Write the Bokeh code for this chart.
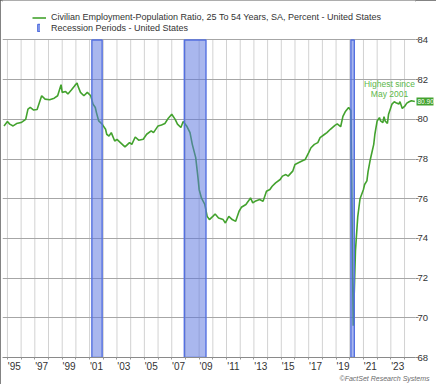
from bokeh.plotting import figure
from bokeh.models import (Range1d, FixedTicker, Legend, LegendItem, Label, ColumnDataSource,
                          LinearAxis, Title, PrintfTickFormatter)
from bokeh.embed import file_html
from bokeh.resources import INLINE

# ---- data ----
dates = ["1994-10", "1995-01", "1995-03", "1995-06", "1995-09", "1996-01", "1996-05", "1996-07",
         "1996-09", "1996-12", "1997-03", "1997-07", "1997-10", "1998-02", "1998-06", "1998-09",
         "1998-12", "1999-01", "1999-04", "1999-06", "1999-09", "1999-12", "2000-02", "2000-03",
         "2000-05", "2000-08", "2000-11", "2001-02", "2001-04", "2001-06", "2001-07", "2001-09",
         "2001-12", "2002-01", "2002-03", "2002-04", "2002-06", "2002-08", "2002-11", "2003-01",
         "2003-04", "2003-08", "2003-12", "2004-02", "2004-05", "2004-08", "2004-12", "2005-03",
         "2005-07", "2005-09", "2006-01", "2006-04", "2006-07", "2006-10", "2007-01", "2007-04",
         "2007-06", "2007-09", "2007-11", "2008-02", "2008-05", "2008-07", "2008-10", "2008-12",
         "2009-01", "2009-03", "2009-06", "2009-08", "2009-10", "2010-01", "2010-03", "2010-06",
         "2010-10", "2010-12", "2011-03", "2011-06", "2011-09", "2011-12", "2012-02", "2012-06",
         "2012-08", "2012-10", "2012-12", "2013-02", "2013-06", "2013-09", "2013-10", "2013-12",
         "2014-03", "2014-05", "2014-08", "2014-12", "2015-02", "2015-05", "2015-07", "2015-11",
         "2016-01", "2016-04", "2016-08", "2016-10", "2017-01", "2017-03", "2017-06", "2017-09",
         "2017-11", "2018-03", "2018-05", "2018-08", "2018-12", "2019-02", "2019-05", "2019-07",
         "2019-09", "2019-12", "2020-02", "2020-04", "2020-05", "2020-06", "2020-08", "2020-10",
         "2021-01", "2021-02", "2021-04", "2021-05", "2021-07", "2021-10", "2021-11", "2022-01",
         "2022-03", "2022-04", "2022-06", "2022-07", "2022-08", "2022-10", "2022-11", "2023-01",
         "2023-02", "2023-04", "2023-06", "2023-08", "2023-09", "2023-11", "2024-01", "2024-03",
         "2024-05", "2024-07", "2024-10"]
ratio = [79.67, 79.89, 79.76, 79.67, 79.79, 79.84, 80.00, 80.52,
         80.60, 80.47, 80.50, 81.19, 81.02, 80.99, 81.07, 81.19,
         81.75, 81.36, 81.40, 81.28, 81.48, 81.70, 81.83, 81.65,
         81.36, 81.19, 81.36, 81.19, 80.77, 80.60, 80.34, 79.92,
         79.76, 79.67, 79.50, 79.25, 79.16, 79.33, 78.91, 78.99,
         78.83, 78.61, 78.83, 78.74, 79.11, 78.95, 79.00, 79.25,
         79.42, 79.33, 79.67, 79.72, 79.79, 80.06, 80.26, 80.00,
         79.76, 79.59, 79.89, 79.67, 79.33, 78.74, 78.07, 77.05,
         76.47, 76.04, 75.71, 75.11, 74.95, 75.11, 75.23, 75.03,
         74.95, 74.78, 75.11, 74.95, 74.86, 75.37, 75.57, 75.71,
         75.87, 76.04, 75.79, 75.87, 75.96, 75.87, 76.04, 76.38,
         76.47, 76.63, 76.80, 76.97, 77.14, 77.22, 77.14, 77.39,
         77.73, 77.81, 77.93, 77.98, 78.32, 78.57, 78.74, 78.83,
         79.08, 79.25, 79.33, 79.50, 79.70, 79.77, 79.63, 80.15,
         80.38, 80.60, 80.45, 69.60, 71.40, 73.40, 75.10, 76.00,
         76.47, 76.72, 76.90, 77.35, 77.98, 78.74, 79.25, 79.92,
         80.09, 79.92, 79.84, 80.14, 79.92, 79.80, 80.26, 80.60,
         80.77, 80.89, 80.82, 80.77, 80.89, 80.55, 80.65, 80.82,
         80.89, 80.94, 80.90]

rec_start = ["2001-03", "2007-12", "2020-02"]
rec_end = ["2001-11", "2009-06", "2020-04"]

grid_years = list(range(1995, 2025))
year_label_years = list(range(1995, 2024, 2))
year_labels = ["'95", "'97", "'99", "'01", "'03", "'05", "'07", "'09",
               "'11", "'13", "'15", "'17", "'19", "'21", "'23"]
y_ticks = [68, 70, 72, 74, 76, 78, 80, 82, 84]

series_name = "Civilian Employment-Population Ratio, 25 To 54 Years, SA, Percent - United States"
recession_name = "Recession Periods - United States"
note_lines = ["Highest since", "May 2001"]
footer = "\u00a9FactSet Research Systems"


def to_year(s):
    y, m = s.split("-")
    return int(y) + (int(m) - 1) / 12.0


x = [to_year(d) for d in dates]
rec_left = [to_year(d) for d in rec_start]
rec_right = [to_year(d) + 1 / 12.0 for d in rec_end]

FONT = "Liberation Sans"
GREEN = "#43a22e"
TEXT = "#333333"
Y_MIN, Y_MAX = y_ticks[0], y_ticks[-1]

# the frame reaches up to the figure top so that the legend rows sit inside it
p = figure(width=436, height=384, output_backend="svg", toolbar_location=None,
           x_range=Range1d(1994.64, 2024.80), y_range=Range1d(Y_MIN, 85.99),
           y_axis_location="right",
           min_border_left=2, min_border_right=18, min_border_top=0, min_border_bottom=27)
p.title.visible = False
p.outline_line_color = None
p.background_fill_color = "white"
p.border_fill_color = "white"
p.styles = {"outline": "2px solid #5a5a5a", "outline-offset": "-2px"}

# vertical year grid limited to the value range
p.xgrid.visible = False
p.segment(x0=grid_years, y0=Y_MIN, x1=grid_years, y1=Y_MAX,
          line_color="#d2d2d2", line_width=1, level="underlay")
p.ygrid.ticker = FixedTicker(ticks=y_ticks)
p.ygrid.grid_line_color = "#a6a6a6"

line_src = ColumnDataSource(dict(x=x, y=ratio))
line_r = p.line("x", "y", source=line_src, line_color=GREEN, line_width=1.6)

rec_src = ColumnDataSource(dict(left=rec_left, right=rec_right))
rec_r = p.quad(left="left", right="right", bottom=Y_MIN, top=Y_MAX, source=rec_src,
               fill_color="#5b74df", fill_alpha=0.52, line_color="#5470e0", line_width=1.4)

# x axis
xa = p.xaxis[0]
xa.ticker = FixedTicker(ticks=[yy + 0.5 for yy in year_label_years], minor_ticks=grid_years)
xa.major_label_overrides = {yy + 0.5: lab for yy, lab in zip(year_label_years, year_labels)}
xa.major_tick_line_color = None
xa.major_tick_out = 0
xa.major_tick_in = 0
xa.minor_tick_out = 2
xa.minor_tick_in = 0
xa.minor_tick_line_color = "#999999"
xa.axis_line_color = "#8a8a8a"
xa.major_label_standoff = 1
xa.axis_label_standoff = 0
xa.major_label_text_font = FONT
xa.major_label_text_font_size = "10px"
xa.major_label_text_color = TEXT

# y axis (right)
ya = p.yaxis[0]
ya.ticker = FixedTicker(ticks=y_ticks)
ya.axis_line_color = None
ya.major_tick_out = 3
ya.major_tick_in = 0
ya.major_tick_line_color = "#888888"
ya.minor_tick_line_color = None
ya.major_label_standoff = -1
ya.axis_label_standoff = 0
ya.major_label_text_font = FONT
ya.major_label_text_font_size = "9.5px"
ya.major_label_text_color = TEXT

# last-value tag drawn as an extra right axis with one tick
tag_axis = LinearAxis(ticker=FixedTicker(ticks=[ratio[-1]]),
                      formatter=PrintfTickFormatter(format="%.2f"))
tag_axis.axis_line_color = None
tag_axis.minor_tick_line_color = None
tag_axis.major_tick_line_color = GREEN
tag_axis.major_tick_line_width = 8
tag_axis.major_tick_in = 15
tag_axis.major_tick_out = 2
tag_axis.major_label_standoff = -16
tag_axis.axis_label_standoff = 0
tag_axis.major_label_text_font = FONT
tag_axis.major_label_text_font_size = "6.5px"
tag_axis.major_label_text_color = "white"
p.add_layout(tag_axis, "right")

# legends (inside the upper part of the frame)
leg1 = Legend(items=[LegendItem(label=series_name, renderers=[line_r])],
              location=(30, 334.5), glyph_width=14, glyph_height=11, label_height=11,
              label_standoff=5, padding=0, margin=0, spacing=0,
              label_text_font=FONT, label_text_font_size="9px", label_text_color=TEXT,
              background_fill_alpha=0, border_line_color=None)
leg2 = Legend(items=[LegendItem(label=recession_name, renderers=[rec_r])],
              location=(35, 324.5), glyph_width=3, glyph_height=9, label_height=9,
              label_standoff=11, padding=0, margin=0, spacing=0,
              label_text_font=FONT, label_text_font_size="9px", label_text_color=TEXT,
              background_fill_alpha=0, border_line_color=None)
p.add_layout(leg1)
p.add_layout(leg2)

# annotation
p.add_layout(Label(x=2022.9, y=81.80, text=note_lines[0], text_align="center",
                   text_baseline="middle", text_font=FONT, text_font_size="8.5px",
                   text_color="#5cb84a"))
p.add_layout(Label(x=2022.9, y=81.29, text=note_lines[1], text_align="center",
                   text_baseline="middle", text_font=FONT, text_font_size="8.5px",
                   text_color="#5cb84a"))

# footer
p.add_layout(Title(text=footer, align="right", offset=-14, standoff=0, vertical_align="top",
                   text_font=FONT, text_font_size="7px", text_font_style="italic",
                   text_color="#6a6a6a"), "below")

open("out.html", "w").write(file_html(p, INLINE))
